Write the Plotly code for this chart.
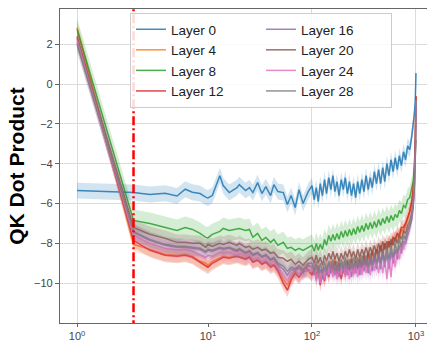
import plotly.graph_objects as go

# Token positions (log-spaced sampling of the sequence)
token_pos = [1, 2.7, 3.6, 4.7, 5.8, 6.7, 7.6, 8.7, 9.6, 10,
             11, 13, 14, 16, 19, 20, 23, 25, 27, 30, 33, 36, 40, 43, 47, 53, 58, 63, 69, 75, 82, 92,
             100, 105, 110, 115, 120, 126, 132, 138, 145, 152,
             159, 166, 174, 182, 191, 200, 209, 219, 229, 240,
             251, 263, 275, 288, 302, 316, 331, 347, 363, 380,
             398, 417, 437, 457, 479, 501, 525, 550, 575, 603,
             631, 661, 692, 724, 759, 794, 832, 871, 912, 940,
             965, 985, 1000]

# Mean QK dot product per layer
layer_0 = [-5.35, -5.45, -5.55, -5.48, -5.62, -5.28, -5.43, -5.5, -5.68, -5.72,
           -5.6, -4.6, -5.1, -5.45, -5.2, -5.05, -5.35, -5.2, -5.45, -4.95, -5.5, -5.15,
           -5.6, -5.05, -5.4, -5.45, -6.05, -5.6, -6.2, -5.3, -6.0, -5.4,
           -5.1, -5.8, -5.2, -5.9, -5.0, -5.6, -4.8, -5.5, -4.7, -5.3,
           -4.6, -5.4, -4.9, -5.6, -4.8, -5.3, -4.7, -5.5, -4.9, -5.6,
           -5.0, -5.7, -4.9, -5.5, -4.8, -5.4, -4.6, -5.3, -4.7, -5.2,
           -4.4, -5.0, -4.3, -5.0, -4.2, -4.9, -4.0, -4.6, -3.8, -4.4,
           -3.7, -4.3, -3.6, -4.1, -3.4, -3.8, -3.1, -3.3, -2.6, -2.1,
           -1.5, -0.8, 0.55]
layer_4 = [2.85, -8.05, -8.3, -8.55, -8.6, -8.55, -8.65, -8.9, -9.0, -9.1,
           -8.9, -8.7, -8.65, -8.7, -8.6, -8.65, -8.75, -8.65, -8.9, -8.8, -9.0, -8.9,
           -9.1, -9.05, -9.3, -9.8, -10.1, -9.7, -9.4, -9.6, -9.3, -9.3,
           -9.5, -9.0, -9.7, -9.1, -9.9, -9.3, -9.8, -9.1, -9.6, -8.9,
           -9.4, -8.8, -9.5, -8.9, -9.7, -9.0, -9.5, -8.8, -9.4, -8.7,
           -9.5, -8.8, -9.2, -8.7, -9.3, -8.6, -9.2, -8.5, -9.0, -8.4,
           -8.9, -8.3, -8.7, -8.1, -8.5, -8.0, -8.4, -7.9, -8.2, -7.8,
           -7.9, -7.6, -7.7, -7.3, -7.4, -7.1, -6.8, -6.4, -5.9, -5.3,
           -4.2, -2.8, -0.6]
layer_8 = [2.75, -6.85, -7.0, -7.2, -7.35, -7.2, -7.3, -7.5, -7.7, -7.72,
           -7.55, -7.4, -7.25, -7.35, -7.3, -7.25, -7.35, -7.3, -7.7, -7.5, -7.85, -7.7,
           -7.95, -7.8, -8.1, -7.95, -8.25, -8.2, -8.35, -8.25, -8.35, -8.2,
           -8.1, -8.4, -8.0, -8.35, -8.05, -8.3, -7.8, -8.1, -7.6, -7.9,
           -7.55, -7.85, -7.5, -7.8, -7.4, -7.7, -7.35, -7.65, -7.3, -7.6,
           -7.25, -7.55, -7.15, -7.45, -7.1, -7.4, -7.0, -7.3, -6.95, -7.25,
           -6.9, -7.2, -6.8, -7.1, -6.75, -7.0, -6.65, -6.95, -6.6, -6.85,
           -6.55, -6.7, -6.35, -6.5, -6.1, -6.2, -5.8, -5.7, -5.3, -4.9,
           -4.3, -3.6, -2.8]
layer_12 = [2.4, -7.85, -8.35, -8.6, -8.65, -8.6, -8.7, -8.95, -9.1, -9.2,
            -9.0, -8.8, -8.7, -8.75, -8.65, -8.7, -8.8, -8.7, -8.95, -8.85, -9.05, -8.95,
            -9.2, -9.1, -9.4, -10.0, -10.35, -9.85, -9.5, -9.7, -9.4, -9.35,
            -9.6, -9.1, -9.8, -9.2, -10.1, -9.4, -9.9, -9.2, -9.7, -9.0,
            -9.5, -8.9, -9.6, -9.0, -9.8, -9.1, -9.6, -8.9, -9.3, -8.8,
            -9.4, -8.9, -9.3, -8.8, -9.2, -8.6, -9.1, -8.5, -8.9, -8.4,
            -8.8, -8.3, -8.6, -8.1, -8.5, -8.0, -8.3, -7.9, -8.1, -7.7,
            -7.8, -7.5, -7.6, -7.2, -7.2, -7.0, -6.7, -6.4, -5.9, -5.3,
            -4.2, -2.8, -0.6]
layer_16 = [2.1, -7.45, -7.85, -8.1, -8.2, -8.2, -8.25, -8.3, -8.45, -8.35,
            -8.4, -8.25, -8.3, -8.25, -8.4, -8.3, -8.5, -8.4, -8.6, -8.5, -8.7, -8.6,
            -8.85, -8.75, -9.1, -9.3, -9.6, -9.3, -9.4, -9.2, -9.5, -9.1,
            -9.2, -9.6, -9.1, -9.7, -9.3, -9.8, -9.2, -9.6, -9.0, -9.5,
            -9.0, -9.6, -9.1, -9.7, -9.0, -9.5, -8.9, -9.6, -9.0, -9.7,
            -9.0, -9.5, -8.9, -9.6, -8.9, -9.4, -8.8, -9.5, -8.8, -9.4,
            -8.7, -9.3, -8.6, -9.3, -8.5, -9.2, -8.5, -9.3, -8.4, -9.0,
            -8.3, -8.8, -8.1, -8.5, -7.9, -8.0, -7.6, -7.3, -6.8, -6.2,
            -5.2, -3.7, -0.9]
layer_20 = [2.3, -7.2, -7.55, -7.75, -7.95, -7.95, -8.0, -8.0, -8.2, -8.05,
            -8.15, -8.0, -8.05, -7.95, -8.1, -8.0, -8.2, -8.15, -8.3, -8.2, -8.35, -8.3,
            -8.5, -8.45, -8.7, -8.75, -8.9, -8.8, -9.05, -8.9, -9.1, -8.8,
            -8.7, -9.0, -8.6, -9.0, -8.7, -9.1, -8.6, -8.9, -8.5, -8.8,
            -8.4, -8.8, -8.5, -8.9, -8.5, -8.8, -8.4, -8.7, -8.3, -8.7,
            -8.4, -8.8, -8.3, -8.7, -8.3, -8.6, -8.2, -8.6, -8.2, -8.5,
            -8.1, -8.5, -8.0, -8.4, -7.9, -8.3, -7.9, -8.2, -7.8, -8.1,
            -7.7, -8.0, -7.6, -7.8, -7.4, -7.5, -7.1, -6.9, -6.5, -6.0,
            -5.0, -3.5, -0.7]
layer_24 = [2.2, -7.6, -8.0, -8.25, -8.35, -8.3, -8.4, -8.55, -8.7, -8.6,
            -8.65, -8.45, -8.5, -8.45, -8.6, -8.5, -8.65, -8.55, -8.8, -8.7, -8.9, -8.8,
            -9.0, -8.9, -9.2, -9.6, -9.9, -9.5, -9.3, -9.6, -9.3, -9.4,
            -9.4, -9.0, -9.9, -9.3, -10.0, -9.3, -9.8, -9.1, -9.6, -9.0,
            -9.7, -9.1, -9.8, -9.2, -9.6, -8.9, -9.7, -9.1, -9.8, -9.0,
            -9.6, -9.0, -9.7, -9.0, -9.6, -8.9, -9.5, -8.9, -9.6, -8.8,
            -9.4, -8.8, -9.5, -8.7, -9.5, -8.7, -9.8, -8.6, -9.7, -8.5,
            -9.2, -8.3, -8.8, -8.0, -8.3, -7.7, -7.5, -7.0, -6.6, -6.0,
            -5.0, -3.6, -0.8]
layer_28 = [2.0, -7.4, -7.8, -8.05, -8.15, -8.15, -8.2, -8.25, -8.4, -8.3,
            -8.35, -8.2, -8.25, -8.2, -8.35, -8.25, -8.45, -8.35, -8.55, -8.45, -8.65, -8.55,
            -8.8, -8.7, -9.0, -9.15, -9.4, -9.2, -9.3, -9.1, -9.35, -9.0,
            -9.0, -9.4, -8.9, -9.5, -9.0, -9.5, -8.9, -9.4, -8.9, -9.3,
            -8.8, -9.4, -8.9, -9.4, -8.8, -9.3, -8.7, -9.3, -8.8, -9.3,
            -8.7, -9.2, -8.7, -9.2, -8.6, -9.1, -8.6, -9.2, -8.5, -9.1,
            -8.5, -9.0, -8.4, -9.0, -8.3, -8.9, -8.2, -8.8, -8.1, -8.7,
            -8.0, -8.5, -7.8, -8.2, -7.6, -7.8, -7.3, -7.1, -6.6, -6.1,
            -5.1, -3.6, -0.8]

layer_names = ["Layer 0", "Layer 4", "Layer 8", "Layer 12",
               "Layer 16", "Layer 20", "Layer 24", "Layer 28"]
layer_means = [layer_0, layer_4, layer_8, layer_12,
               layer_16, layer_20, layer_24, layer_28]
# Half-width of the shaded spread around each mean
layer_spread = [0.4, 0.35, 0.55, 0.35, 0.4, 0.4, 0.4, 0.4]

# Position of the vertical marker
marker_pos = 2.7

y_ticks = [-10, -8, -6, -4, -2, 0, 2]
x_ticks_first = [1]
x_ticks_rest = [10, 100, 1000]
x_text_first = ["10<sup>0</sup>"]
x_text_rest = ["10<sup>1</sup>", "10<sup>2</sup>", "10<sup>3</sup>"]

colors = ["#1f77b4", "#ff7f0e", "#2ca02c", "#d62728",
          "#9467bd", "#8c564b", "#e377c2", "#7f7f7f"]
# two legend columns: left column layers 0-12, right column layers 16-28
legend_ranks = [1, 3, 5, 7, 2, 4, 6, 8]


def rgba(hex_color, alpha):
    h = hex_color.lstrip("#")
    r, g, b = int(h[0:2], 16), int(h[2:4], 16), int(h[4:6], 16)
    return f"rgba({r},{g},{b},{alpha})"


fig = go.Figure()

for name, ys, spread, col, rank in zip(layer_names, layer_means, layer_spread,
                                        colors, legend_ranks):
    lower = [v - spread for v in ys]
    upper = [v + spread for v in ys]
    # the x axis is drawn in two segments (first decade, then 10..1000)
    for xa in ("x", "x2"):
        fig.add_trace(go.Scatter(
            x=token_pos, y=lower, xaxis=xa, yaxis="y", mode="lines",
            line=dict(width=0, color=col), showlegend=False, hoverinfo="skip"))
        fig.add_trace(go.Scatter(
            x=token_pos, y=upper, xaxis=xa, yaxis="y", mode="lines",
            line=dict(width=0, color=col), fill="tonexty",
            fillcolor=rgba(col, 0.2), showlegend=False, hoverinfo="skip"))
        fig.add_trace(go.Scatter(
            x=token_pos, y=ys, xaxis=xa, yaxis="y", mode="lines",
            line=dict(color=col, width=1.5), opacity=0.85,
            name=name, showlegend=(xa == "x"), legendrank=rank))

fig.add_trace(go.Scatter(
    x=[marker_pos, marker_pos], y=[-20, 10], xaxis="x", yaxis="y",
    mode="lines", line=dict(color="red", width=2.5, dash="9px,3px,2px,3px"),
    showlegend=False, hoverinfo="skip"))

grid_col = "#dcdcdc"
spine_col = "#666666"
split = 148 / 367

axis_common = dict(
    type="log", showgrid=True, gridcolor=grid_col, gridwidth=1,
    showline=True, linecolor=spine_col, linewidth=1.2, mirror=True,
    ticks="outside", ticklen=3, tickcolor=spine_col, anchor="y",
    tickfont=dict(size=11, color="#444444"),
)

fig.update_layout(
    width=427, height=341,
    margin=dict(l=60, r=0, t=9, b=18),
    paper_bgcolor="white", plot_bgcolor="white",
    font=dict(family="Liberation Sans, Arial, sans-serif", size=11, color="#444444"),
    xaxis=dict(domain=[0, split], range=[-0.13, 1],
               tickvals=x_ticks_first, ticktext=x_text_first, **axis_common),
    xaxis2=dict(domain=[split, 1], range=[1, 3.106],
                tickvals=x_ticks_rest, ticktext=x_text_rest, **axis_common),
    yaxis=dict(range=[-12.0, 3.77], tickvals=y_ticks, showgrid=True,
               gridcolor=grid_col, gridwidth=1, zeroline=False,
               showline=True, linecolor=spine_col, linewidth=1.2,
               ticks="outside", ticklen=4, tickcolor=spine_col, anchor="x",
               tickfont=dict(size=11, color="#444444"),
               title=dict(text="QK Dot Product", standoff=3,
                          font=dict(size=21, color="black", weight="bold"))),
    legend=dict(orientation="h", x=70 / 367, y=(323 - 13) / 314,
                xanchor="left", yanchor="top", traceorder="normal",
                entrywidth=85, bgcolor="rgba(255,255,255,0.85)",
                bordercolor="#cccccc", borderwidth=1,
                font=dict(size=13.5, color="#222222")),
)

fig.write_html("out.html")
